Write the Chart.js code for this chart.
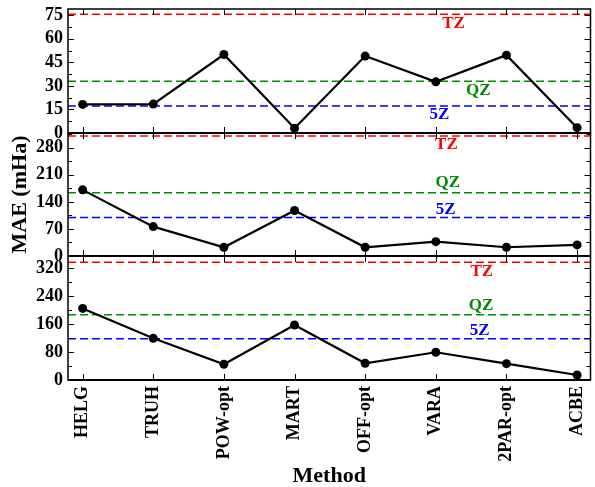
<!DOCTYPE html>
<html lang="en">
<head>
    <meta charset="UTF-8">
    <title>MAE by method</title>
    <script src="https://cdn.jsdelivr.net/npm/chart.js"></script>
    <style>
        body {
            margin: 0;
            padding: 0;
            background: #fff;
            overflow: hidden;
        }

        .wrap {
            position: relative;
            width: 595px;
            height: 487px;
        }

        canvas {
            position: absolute;
            left: 0;
            top: 0;
        }
    </style>
</head>
<body>

<div class="wrap">
    <canvas id="panelTop" width="595" height="487"></canvas>
    <canvas id="panelMid" width="595" height="487"></canvas>
    <canvas id="panelBot" width="595" height="487"></canvas>
</div>

<script>
    // data
    const methods = ['HELG', 'TRUH', 'POW-opt', 'MART', 'OFF-opt', 'VARA', '2PAR-opt', 'ACBE'];

    const maeTop = [18.2, 18.4, 50.0, 3.0, 49.0, 32.6, 49.6, 3.4];
    const maeMid = [171, 76, 22.6, 117.7, 22.6, 37, 22.6, 28.6];
    const maeBot = [205, 119.5, 45, 157.6, 47.9, 79.4, 46.7, 14.3];

    // reference levels: TZ, QZ, 5Z
    const refNames = ['TZ', 'QZ', '5Z'];
    const refTop = [75.6, 32.9, 17.2];
    const refMid = [310, 163.6, 99.5];
    const refBot = [337, 187, 118.3];

    const ticksTop = [0, 15, 30, 45, 60, 75];
    const ticksMid = [0, 70, 140, 210, 280];
    const ticksBot = [0, 80, 160, 240, 320];

    const maxTop = 79;
    const maxMid = 318;
    const maxBot = 355;

    const refColors = ['#ff0000', '#008a00', '#0000ff'];
    const serif = '"Liberation Serif", "Times New Roman", serif';

    // where the TZ/QZ/5Z labels sit: [category position, pixel offset from the line]
    const labelSpots = {
        panelTop: [[5.25, 9], [5.60, 9], [5.05, 9]],
        panelMid: [[5.15, 9], [5.17, -10], [5.14, -8]],
        panelBot: [[5.65, 9.5], [5.64, -9], [5.62, -8]]
    };

    const framePlugin = {
        id: 'frame',
        beforeDatasetsDraw(chart, args, opts) {
            const ctx = chart.ctx;
            const area = chart.chartArea;
            const ys = chart.scales.y;
            ctx.save();
            ctx.lineWidth = 1.5;
            ctx.setLineDash([8, 4]);
            opts.refs.forEach((v, i) => {
                const y = ys.getPixelForValue(v);
                ctx.strokeStyle = refColors[i];
                ctx.beginPath();
                ctx.moveTo(area.left, y);
                ctx.lineTo(area.right, y);
                ctx.stroke();
            });
            ctx.restore();
        },
        afterDraw(chart, args, opts) {
            const ctx = chart.ctx;
            const area = chart.chartArea;
            const xs = chart.scales.x;
            const ys = chart.scales.y;
            ctx.save();

            // reference labels
            ctx.font = 'bold 17px ' + serif;
            ctx.textAlign = 'center';
            ctx.textBaseline = 'middle';
            opts.refs.forEach((v, i) => {
                const spot = opts.spots[i];
                ctx.fillStyle = refColors[i];
                ctx.fillText(refNames[i], xs.getPixelForValue(spot[0]), ys.getPixelForValue(v) + spot[1]);
            });

            // frame
            ctx.strokeStyle = '#000';
            ctx.lineWidth = 1.5;
            ctx.strokeRect(area.left, area.top, area.right - area.left, area.bottom - area.top);
            ctx.lineWidth = 2;
            ctx.beginPath();
            ctx.moveTo(area.left, area.bottom);
            ctx.lineTo(area.right, area.bottom);
            ctx.stroke();

            // inward ticks
            ctx.lineWidth = 1;
            ctx.beginPath();
            methods.forEach((m, i) => {
                const x = Math.round(xs.getPixelForValue(i)) + 0.5;
                ctx.moveTo(x, area.bottom);
                ctx.lineTo(x, area.bottom - 6);
                ctx.moveTo(x, area.top);
                ctx.lineTo(x, area.top + 6);
            });
            const step = opts.ticks[1] - opts.ticks[0];
            for (let v = 0; v <= ys.max; v += step / 2) {
                const y = Math.round(ys.getPixelForValue(v)) + 0.5;
                const len = (v % step === 0) ? 6 : 4;
                ctx.moveTo(area.left, y);
                ctx.lineTo(area.left + len, y);
                ctx.moveTo(area.right, y);
                ctx.lineTo(area.right - len, y);
            }
            ctx.stroke();
            ctx.restore();
        }
    };

    function makePanel(id, values, refs, tickList, yMax, areaTop, areaBottom, isBottom) {
        const ctx = document.getElementById(id).getContext('2d');
        return new Chart(ctx, {
            type: 'line',
            data: {
                datasets: [{
                    data: values.map((v, i) => ({x: i, y: v})),
                    borderColor: '#000',
                    backgroundColor: '#000',
                    borderWidth: 2.2,
                    pointRadius: 4.5,
                    pointBackgroundColor: '#000',
                    pointBorderWidth: 0,
                    clip: 0
                }]
            },
            options: {
                responsive: false,
                animation: false,
                events: [],
                layout: {
                    padding: {top: areaTop, bottom: isBottom ? 0 : 487 - areaBottom, left: 0, right: 1}
                },
                plugins: {
                    legend: {display: false},
                    tooltip: {enabled: false},
                    frame: {refs: refs, ticks: tickList, spots: labelSpots[id]}
                },
                scales: {
                    x: {
                        type: 'linear',
                        display: isBottom,
                        min: -0.207,
                        max: 7.19,
                        grid: {display: false, drawTicks: false, tickLength: 0},
                        border: {display: false},
                        afterBuildTicks: s => { s.ticks = methods.map((m, i) => ({value: i})); },
                        afterFit: s => {
                            if (isBottom) {
                                s.height = 487 - areaBottom;
                                s.paddingLeft = 0;
                                s.paddingRight = 0;
                            }
                        },
                        ticks: {
                            autoSkip: false,
                            minRotation: 90,
                            maxRotation: 90,
                            padding: 6,
                            color: '#000',
                            font: {family: serif, size: 18, weight: 'bold'},
                            callback: v => methods[v]
                        },
                        title: {
                            display: true,
                            text: 'Method',
                            color: '#000',
                            padding: 0,
                            font: {family: serif, size: 22, weight: 'bold', lineHeight: 1.0}
                        }
                    },
                    y: {
                        min: 0,
                        max: yMax,
                        grid: {display: false, drawTicks: false, tickLength: 0},
                        border: {display: false},
                        afterBuildTicks: s => { s.ticks = tickList.map(v => ({value: v})); },
                        afterFit: s => {
                            s.width = 68;
                            s.paddingTop = 0;
                            s.paddingBottom = 0;
                        },
                        ticks: {
                            padding: 5,
                            color: '#000',
                            font: {family: serif, size: 18, weight: 'bold'}
                        },
                        title: {
                            display: id === 'panelMid',
                            text: 'MAE (mHa)',
                            color: '#000',
                            padding: {top: 7, bottom: 0},
                            font: {family: serif, size: 22, weight: 'bold'}
                        }
                    }
                }
            },
            plugins: [framePlugin]
        });
    }

    makePanel('panelTop', maeTop, refTop, ticksTop, maxTop, 9, 133, false);
    makePanel('panelMid', maeMid, refMid, ticksMid, maxMid, 133, 256, false);
    makePanel('panelBot', maeBot, refBot, ticksBot, maxBot, 256, 380, true);
</script>
</body>
</html>
